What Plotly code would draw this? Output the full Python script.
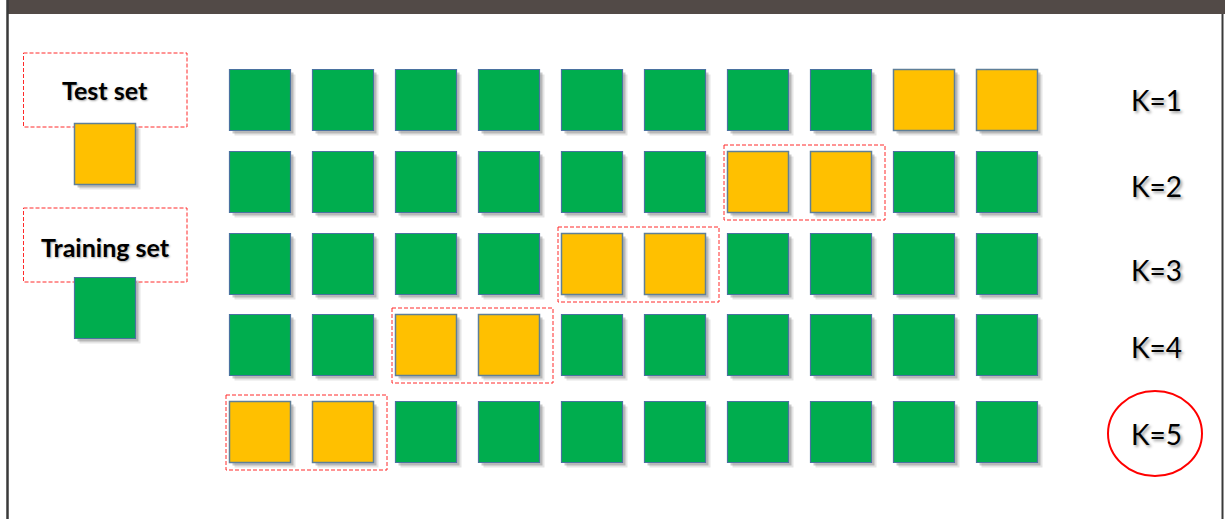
import plotly.graph_objects as go

# --------------------------------------------------
# Data: 5-fold cross validation, 10 blocks per row
# --------------------------------------------------
k_labels = ["K=1", "K=2", "K=3", "K=4", "K=5"]
n_blocks = 10
test_blocks = [[8, 9], [6, 7], [4, 5], [2, 3], [0, 1]]
legend_labels = ["Test set", "Training set"]
highlight_k = "K=5"

# --------------------------------------------------
# Layout constants (pixels)
# --------------------------------------------------
W, H = 1225, 519
COL_X0, COL_DX = 260, 83
ROW_Y = [100, 182, 264, 345, 432]
SQ = 61
GREEN = "#00AD4E"
YELLOW = "#FFC000"
EDGE = "#4A72A0"

fig = go.Figure()

green_x, green_y, yel_x, yel_y = [], [], [], []
for r, tb in enumerate(test_blocks):
    for c in range(n_blocks):
        x = COL_X0 + COL_DX * c
        y = ROW_Y[r]
        if c in tb:
            yel_x.append(x)
            yel_y.append(y)
        else:
            green_x.append(x)
            green_y.append(y)

# legend squares
leg_sq_x = [105, 105]
leg_sq_y = [154, 308]

all_x = green_x + yel_x + leg_sq_x
all_y = green_y + yel_y + leg_sq_y

# shadow (two layers for a softer look)
for off, alpha in [(5, 0.15), (3, 0.3)]:
    fig.add_trace(go.Scatter(
        x=[v + off for v in all_x], y=[v + off for v in all_y], mode="markers",
        marker=dict(symbol="square", size=SQ, color="rgba(80,80,80,%s)" % alpha, line=dict(width=0)),
        hoverinfo="skip", showlegend=False
    ))

fig.add_trace(go.Scatter(
    x=green_x + [leg_sq_x[1]], y=green_y + [leg_sq_y[1]], mode="markers",
    marker=dict(symbol="square", size=SQ, color=GREEN, line=dict(color=EDGE, width=1.2)),
    name="Training set", showlegend=False
))

fig.add_trace(go.Scatter(
    x=yel_x + [leg_sq_x[0]], y=yel_y + [leg_sq_y[0]], mode="markers",
    marker=dict(symbol="square", size=SQ, color=YELLOW, line=dict(color="#5F7F98", width=1.5)),
    name="Test set", showlegend=False
))

shapes = []

# header bar and frame lines
shapes.append(dict(type="rect", x0=7, x1=W, y0=0, y1=14, fillcolor="#524A47", line=dict(width=0), layer="above"))
shapes.append(dict(type="line", x0=7.5, x1=7.5, y0=0, y1=H, line=dict(color="#3A3A3A", width=2.5)))
shapes.append(dict(type="line", x0=1222.5, x1=1222.5, y0=14, y1=H, line=dict(color="#3A3A3A", width=2)))

RED_DASH = dict(color="#FF2A2A", width=1, dash="4px,2px")

# dashed boxes around test folds
for r, tb in enumerate(test_blocks):
    if r == 0:
        continue
    xa = COL_X0 + COL_DX * min(tb) - 34
    xb = COL_X0 + COL_DX * max(tb) + 44
    shapes.append(dict(type="rect", x0=xa, x1=xb, y0=ROW_Y[r] - 37, y1=ROW_Y[r] + 38,
                       line=RED_DASH, layer="below"))

# legend label boxes
for yc in [90, 245]:
    shapes.append(dict(type="rect", x0=23.5, x1=187, y0=yc - 37, y1=yc + 37,
                       line=RED_DASH, layer="below"))

# circle around highlighted K
kr = k_labels.index(highlight_k)
shapes.append(dict(type="circle", x0=1108, x1=1202, y0=ROW_Y[kr] - 41, y1=ROW_Y[kr] + 44,
                   line=dict(color="#FF0000", width=2)))

annotations = []
for lab, yc in zip(legend_labels, [90, 247]):
    annotations.append(dict(x=105, y=yc, text="<b>" + lab + "</b>", showarrow=False,
                            font=dict(family="Lato", size=25, color="#000000",
                                      shadow="1px 1px 2px rgba(0,0,0,0.35)")))

k_y = [100, 186, 270, 347, 434]
for lab, yc in zip(k_labels, k_y):
    annotations.append(dict(x=1156, y=yc, text=lab, showarrow=False,
                            font=dict(family="Lato", size=28, color="#000000",
                                      shadow="2px 2px 3px rgba(0,0,0,0.4)")))

fig.update_layout(
    width=W, height=H,
    margin=dict(l=0, r=0, t=0, b=0),
    paper_bgcolor="white", plot_bgcolor="white",
    xaxis=dict(range=[0, W], visible=False, fixedrange=True),
    yaxis=dict(range=[H, 0], visible=False, fixedrange=True),
    shapes=shapes, annotations=annotations,
)

fig.write_html("out.html", post_script="document.body.style.margin='0';",
               config={"displayModeBar": False})
